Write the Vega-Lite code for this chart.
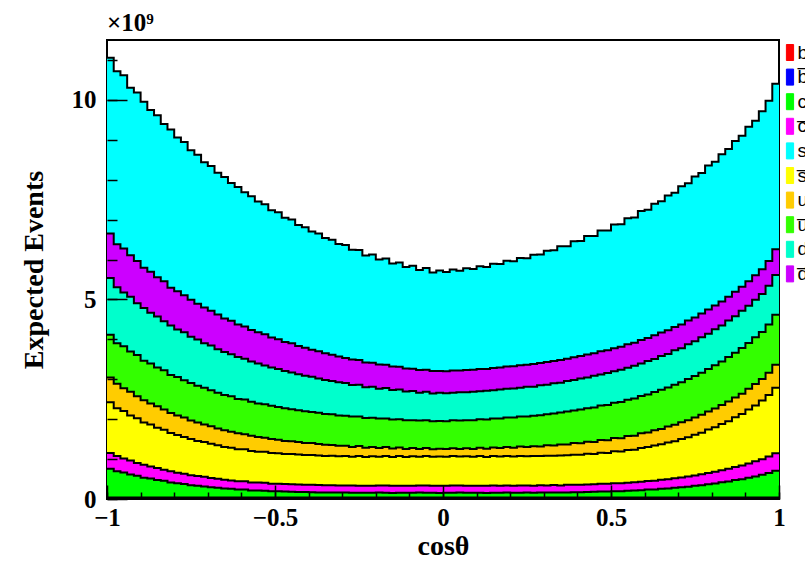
{
  "$schema": "https://vega.github.io/schema/vega-lite/v6.json",
  "width": 672,
  "height": 459,
  "autosize": {"type": "none"},
  "padding": {"left": 107, "top": 40, "right": 26, "bottom": 62},
  "background": "white",
  "config": {
    "view": {"stroke": "black", "strokeWidth": 2},
    "font": "Liberation Serif",
    "legend": {
      "orient": "none", "legendX": 673.5, "legendY": 3, "title": null,
      "symbolType": "M-0.45,-1H0.45V1H-0.45Z", "symbolSize": 256,
      "symbolStrokeColor": "black", "symbolStrokeWidth": 1, "symbolOpacity": 1,
      "labelFont": "Liberation Sans", "labelFontSize": 19, "labelColor": "black",
      "labelOffset": -2, "rowPadding": 3.6
    }
  },
  "title": {"text": "×10⁹", "anchor": "start", "frame": "group", "fontSize": 25, "font": "Liberation Serif", "fontWeight": "bold", "offset": 4, "color": "black"},
  "data": {"values": [
    {"x": -1.00, "b": 0.02, "bbar": 0.015, "c": 0.72, "cbar": 0.40, "sbar": 1.27, "u": 0.62, "ubar": 1.07, "d": 1.42, "dbar": 1.12, "s": 4.40},
    {"x": -0.98, "b": 0.02, "bbar": 0.015, "c": 0.66, "cbar": 0.38, "sbar": 1.20, "u": 0.61, "ubar": 1.02, "d": 1.40, "dbar": 1.08, "s": 4.33},
    {"x": -0.96, "b": 0.02, "bbar": 0.015, "c": 0.63, "cbar": 0.35, "sbar": 1.19, "u": 0.57, "ubar": 1.05, "d": 1.35, "dbar": 1.10, "s": 4.34},
    {"x": -0.94, "b": 0.02, "bbar": 0.015, "c": 0.58, "cbar": 0.35, "sbar": 1.13, "u": 0.59, "ubar": 1.01, "d": 1.37, "dbar": 1.04, "s": 4.20},
    {"x": -0.92, "b": 0.02, "bbar": 0.015, "c": 0.55, "cbar": 0.32, "sbar": 1.12, "u": 0.55, "ubar": 1.03, "d": 1.30, "dbar": 1.06, "s": 4.22},
    {"x": -0.90, "b": 0.02, "bbar": 0.015, "c": 0.50, "cbar": 0.32, "sbar": 1.06, "u": 0.56, "ubar": 0.99, "d": 1.32, "dbar": 1.01, "s": 4.16},
    {"x": -0.88, "b": 0.02, "bbar": 0.015, "c": 0.48, "cbar": 0.30, "sbar": 1.05, "u": 0.53, "ubar": 1.00, "d": 1.27, "dbar": 1.03, "s": 4.05},
    {"x": -0.86, "b": 0.02, "bbar": 0.015, "c": 0.44, "cbar": 0.30, "sbar": 1.01, "u": 0.54, "ubar": 0.97, "d": 1.28, "dbar": 0.98, "s": 4.06},
    {"x": -0.84, "b": 0.02, "bbar": 0.015, "c": 0.42, "cbar": 0.28, "sbar": 1.00, "u": 0.51, "ubar": 0.98, "d": 1.23, "dbar": 1.00, "s": 3.94},
    {"x": -0.82, "b": 0.02, "bbar": 0.015, "c": 0.38, "cbar": 0.28, "sbar": 0.96, "u": 0.50, "ubar": 0.95, "d": 1.24, "dbar": 0.95, "s": 3.96},
    {"x": -0.80, "b": 0.02, "bbar": 0.015, "c": 0.36, "cbar": 0.26, "sbar": 0.95, "u": 0.49, "ubar": 0.96, "d": 1.19, "dbar": 0.96, "s": 3.85},
    {"x": -0.78, "b": 0.02, "bbar": 0.015, "c": 0.34, "cbar": 0.26, "sbar": 0.92, "u": 0.49, "ubar": 0.93, "d": 1.20, "dbar": 0.93, "s": 3.84},
    {"x": -0.76, "b": 0.02, "bbar": 0.015, "c": 0.31, "cbar": 0.25, "sbar": 0.91, "u": 0.46, "ubar": 0.94, "d": 1.16, "dbar": 0.93, "s": 3.74},
    {"x": -0.74, "b": 0.02, "bbar": 0.015, "c": 0.30, "cbar": 0.24, "sbar": 0.88, "u": 0.46, "ubar": 0.92, "d": 1.16, "dbar": 0.90, "s": 3.73},
    {"x": -0.72, "b": 0.02, "bbar": 0.015, "c": 0.28, "cbar": 0.24, "sbar": 0.87, "u": 0.44, "ubar": 0.92, "d": 1.12, "dbar": 0.89, "s": 3.64},
    {"x": -0.70, "b": 0.02, "bbar": 0.015, "c": 0.26, "cbar": 0.23, "sbar": 0.86, "u": 0.44, "ubar": 0.90, "d": 1.12, "dbar": 0.87, "s": 3.63},
    {"x": -0.68, "b": 0.02, "bbar": 0.015, "c": 0.25, "cbar": 0.22, "sbar": 0.84, "u": 0.42, "ubar": 0.90, "d": 1.09, "dbar": 0.87, "s": 3.55},
    {"x": -0.66, "b": 0.02, "bbar": 0.015, "c": 0.23, "cbar": 0.22, "sbar": 0.82, "u": 0.42, "ubar": 0.88, "d": 1.08, "dbar": 0.84, "s": 3.54},
    {"x": -0.64, "b": 0.02, "bbar": 0.015, "c": 0.22, "cbar": 0.21, "sbar": 0.82, "u": 0.40, "ubar": 0.89, "d": 1.05, "dbar": 0.84, "s": 3.45},
    {"x": -0.62, "b": 0.02, "bbar": 0.015, "c": 0.20, "cbar": 0.21, "sbar": 0.80, "u": 0.40, "ubar": 0.86, "d": 1.05, "dbar": 0.82, "s": 3.44},
    {"x": -0.60, "b": 0.02, "bbar": 0.015, "c": 0.20, "cbar": 0.21, "sbar": 0.80, "u": 0.38, "ubar": 0.87, "d": 1.02, "dbar": 0.81, "s": 3.36},
    {"x": -0.58, "b": 0.02, "bbar": 0.015, "c": 0.18, "cbar": 0.20, "sbar": 0.79, "u": 0.38, "ubar": 0.85, "d": 1.01, "dbar": 0.79, "s": 3.35},
    {"x": -0.56, "b": 0.02, "bbar": 0.015, "c": 0.18, "cbar": 0.20, "sbar": 0.77, "u": 0.37, "ubar": 0.84, "d": 1.00, "dbar": 0.78, "s": 3.28},
    {"x": -0.54, "b": 0.02, "bbar": 0.015, "c": 0.17, "cbar": 0.20, "sbar": 0.78, "u": 0.35, "ubar": 0.84, "d": 0.97, "dbar": 0.78, "s": 3.26},
    {"x": -0.52, "b": 0.02, "bbar": 0.015, "c": 0.16, "cbar": 0.19, "sbar": 0.77, "u": 0.35, "ubar": 0.83, "d": 0.96, "dbar": 0.75, "s": 3.19},
    {"x": -0.50, "b": 0.02, "bbar": 0.015, "c": 0.16, "cbar": 0.19, "sbar": 0.76, "u": 0.34, "ubar": 0.82, "d": 0.95, "dbar": 0.75, "s": 3.18},
    {"x": -0.48, "b": 0.02, "bbar": 0.015, "c": 0.15, "cbar": 0.19, "sbar": 0.75, "u": 0.33, "ubar": 0.82, "d": 0.93, "dbar": 0.73, "s": 3.11},
    {"x": -0.46, "b": 0.02, "bbar": 0.015, "c": 0.145, "cbar": 0.19, "sbar": 0.76, "u": 0.32, "ubar": 0.80, "d": 0.92, "dbar": 0.73, "s": 3.10},
    {"x": -0.44, "b": 0.02, "bbar": 0.015, "c": 0.14, "cbar": 0.19, "sbar": 0.75, "u": 0.31, "ubar": 0.80, "d": 0.90, "dbar": 0.71, "s": 3.03},
    {"x": -0.42, "b": 0.02, "bbar": 0.015, "c": 0.14, "cbar": 0.185, "sbar": 0.74, "u": 0.30, "ubar": 0.80, "d": 0.89, "dbar": 0.70, "s": 3.02},
    {"x": -0.40, "b": 0.02, "bbar": 0.015, "c": 0.135, "cbar": 0.185, "sbar": 0.745, "u": 0.30, "ubar": 0.78, "d": 0.88, "dbar": 0.68, "s": 2.96},
    {"x": -0.38, "b": 0.02, "bbar": 0.015, "c": 0.13, "cbar": 0.185, "sbar": 0.74, "u": 0.285, "ubar": 0.785, "d": 0.86, "dbar": 0.68, "s": 2.95},
    {"x": -0.36, "b": 0.02, "bbar": 0.015, "c": 0.13, "cbar": 0.18, "sbar": 0.735, "u": 0.28, "ubar": 0.77, "d": 0.85, "dbar": 0.67, "s": 2.89},
    {"x": -0.34, "b": 0.02, "bbar": 0.015, "c": 0.125, "cbar": 0.185, "sbar": 0.74, "u": 0.27, "ubar": 0.77, "d": 0.83, "dbar": 0.66, "s": 2.88},
    {"x": -0.32, "b": 0.02, "bbar": 0.015, "c": 0.125, "cbar": 0.18, "sbar": 0.73, "u": 0.265, "ubar": 0.76, "d": 0.83, "dbar": 0.645, "s": 2.82},
    {"x": -0.30, "b": 0.02, "bbar": 0.015, "c": 0.125, "cbar": 0.18, "sbar": 0.735, "u": 0.26, "ubar": 0.75, "d": 0.82, "dbar": 0.63, "s": 2.83},
    {"x": -0.28, "b": 0.02, "bbar": 0.015, "c": 0.12, "cbar": 0.185, "sbar": 0.72, "u": 0.245, "ubar": 0.76, "d": 0.79, "dbar": 0.64, "s": 2.75},
    {"x": -0.26, "b": 0.02, "bbar": 0.015, "c": 0.12, "cbar": 0.18, "sbar": 0.74, "u": 0.25, "ubar": 0.74, "d": 0.80, "dbar": 0.615, "s": 2.76},
    {"x": -0.24, "b": 0.02, "bbar": 0.015, "c": 0.12, "cbar": 0.175, "sbar": 0.725, "u": 0.23, "ubar": 0.745, "d": 0.77, "dbar": 0.62, "s": 2.68},
    {"x": -0.22, "b": 0.02, "bbar": 0.015, "c": 0.12, "cbar": 0.18, "sbar": 0.735, "u": 0.235, "ubar": 0.73, "d": 0.78, "dbar": 0.60, "s": 2.71},
    {"x": -0.20, "b": 0.02, "bbar": 0.015, "c": 0.125, "cbar": 0.18, "sbar": 0.72, "u": 0.22, "ubar": 0.735, "d": 0.75, "dbar": 0.605, "s": 2.63},
    {"x": -0.18, "b": 0.02, "bbar": 0.015, "c": 0.12, "cbar": 0.185, "sbar": 0.735, "u": 0.225, "ubar": 0.72, "d": 0.76, "dbar": 0.585, "s": 2.66},
    {"x": -0.16, "b": 0.02, "bbar": 0.015, "c": 0.115, "cbar": 0.18, "sbar": 0.725, "u": 0.21, "ubar": 0.725, "d": 0.74, "dbar": 0.59, "s": 2.58},
    {"x": -0.14, "b": 0.02, "bbar": 0.015, "c": 0.12, "cbar": 0.18, "sbar": 0.74, "u": 0.215, "ubar": 0.71, "d": 0.745, "dbar": 0.57, "s": 2.61},
    {"x": -0.12, "b": 0.02, "bbar": 0.015, "c": 0.12, "cbar": 0.175, "sbar": 0.725, "u": 0.20, "ubar": 0.72, "d": 0.72, "dbar": 0.575, "s": 2.54},
    {"x": -0.10, "b": 0.02, "bbar": 0.015, "c": 0.12, "cbar": 0.18, "sbar": 0.735, "u": 0.205, "ubar": 0.70, "d": 0.73, "dbar": 0.56, "s": 2.58},
    {"x": -0.08, "b": 0.02, "bbar": 0.015, "c": 0.125, "cbar": 0.18, "sbar": 0.72, "u": 0.195, "ubar": 0.71, "d": 0.70, "dbar": 0.565, "s": 2.51},
    {"x": -0.06, "b": 0.02, "bbar": 0.015, "c": 0.12, "cbar": 0.185, "sbar": 0.735, "u": 0.20, "ubar": 0.70, "d": 0.715, "dbar": 0.55, "s": 2.55},
    {"x": -0.04, "b": 0.02, "bbar": 0.015, "c": 0.12, "cbar": 0.18, "sbar": 0.725, "u": 0.185, "ubar": 0.705, "d": 0.695, "dbar": 0.56, "s": 2.47},
    {"x": -0.02, "b": 0.02, "bbar": 0.015, "c": 0.115, "cbar": 0.18, "sbar": 0.735, "u": 0.195, "ubar": 0.695, "d": 0.705, "dbar": 0.545, "s": 2.52},
    {"x": 0.00, "b": 0.02, "bbar": 0.015, "c": 0.12, "cbar": 0.18, "sbar": 0.725, "u": 0.19, "ubar": 0.70, "d": 0.70, "dbar": 0.55, "s": 2.49},
    {"x": 0.02, "b": 0.02, "bbar": 0.015, "c": 0.12, "cbar": 0.185, "sbar": 0.735, "u": 0.195, "ubar": 0.705, "d": 0.69, "dbar": 0.555, "s": 2.53},
    {"x": 0.04, "b": 0.02, "bbar": 0.015, "c": 0.125, "cbar": 0.18, "sbar": 0.725, "u": 0.19, "ubar": 0.71, "d": 0.71, "dbar": 0.545, "s": 2.50},
    {"x": 0.06, "b": 0.02, "bbar": 0.015, "c": 0.12, "cbar": 0.18, "sbar": 0.735, "u": 0.20, "ubar": 0.705, "d": 0.70, "dbar": 0.555, "s": 2.55},
    {"x": 0.08, "b": 0.02, "bbar": 0.015, "c": 0.12, "cbar": 0.175, "sbar": 0.73, "u": 0.195, "ubar": 0.72, "d": 0.715, "dbar": 0.55, "s": 2.52},
    {"x": 0.10, "b": 0.02, "bbar": 0.015, "c": 0.12, "cbar": 0.18, "sbar": 0.74, "u": 0.21, "ubar": 0.715, "d": 0.70, "dbar": 0.56, "s": 2.57},
    {"x": 0.12, "b": 0.02, "bbar": 0.015, "c": 0.115, "cbar": 0.18, "sbar": 0.725, "u": 0.205, "ubar": 0.73, "d": 0.72, "dbar": 0.55, "s": 2.55},
    {"x": 0.14, "b": 0.02, "bbar": 0.015, "c": 0.12, "cbar": 0.185, "sbar": 0.735, "u": 0.215, "ubar": 0.725, "d": 0.71, "dbar": 0.56, "s": 2.61},
    {"x": 0.16, "b": 0.02, "bbar": 0.015, "c": 0.12, "cbar": 0.18, "sbar": 0.73, "u": 0.21, "ubar": 0.745, "d": 0.725, "dbar": 0.55, "s": 2.59},
    {"x": 0.18, "b": 0.02, "bbar": 0.015, "c": 0.125, "cbar": 0.18, "sbar": 0.74, "u": 0.225, "ubar": 0.74, "d": 0.715, "dbar": 0.56, "s": 2.65},
    {"x": 0.20, "b": 0.02, "bbar": 0.015, "c": 0.12, "cbar": 0.18, "sbar": 0.73, "u": 0.22, "ubar": 0.755, "d": 0.73, "dbar": 0.555, "s": 2.63},
    {"x": 0.22, "b": 0.02, "bbar": 0.015, "c": 0.12, "cbar": 0.185, "sbar": 0.74, "u": 0.235, "ubar": 0.75, "d": 0.725, "dbar": 0.56, "s": 2.69},
    {"x": 0.24, "b": 0.02, "bbar": 0.015, "c": 0.125, "cbar": 0.18, "sbar": 0.73, "u": 0.23, "ubar": 0.77, "d": 0.74, "dbar": 0.555, "s": 2.67},
    {"x": 0.26, "b": 0.02, "bbar": 0.015, "c": 0.12, "cbar": 0.18, "sbar": 0.74, "u": 0.245, "ubar": 0.765, "d": 0.73, "dbar": 0.565, "s": 2.74},
    {"x": 0.28, "b": 0.02, "bbar": 0.015, "c": 0.125, "cbar": 0.185, "sbar": 0.73, "u": 0.24, "ubar": 0.785, "d": 0.75, "dbar": 0.555, "s": 2.72},
    {"x": 0.30, "b": 0.02, "bbar": 0.015, "c": 0.125, "cbar": 0.18, "sbar": 0.745, "u": 0.26, "ubar": 0.78, "d": 0.74, "dbar": 0.565, "s": 2.79},
    {"x": 0.32, "b": 0.02, "bbar": 0.015, "c": 0.13, "cbar": 0.185, "sbar": 0.735, "u": 0.255, "ubar": 0.805, "d": 0.755, "dbar": 0.56, "s": 2.77},
    {"x": 0.34, "b": 0.02, "bbar": 0.015, "c": 0.125, "cbar": 0.18, "sbar": 0.75, "u": 0.275, "ubar": 0.80, "d": 0.75, "dbar": 0.57, "s": 2.85},
    {"x": 0.36, "b": 0.02, "bbar": 0.015, "c": 0.13, "cbar": 0.19, "sbar": 0.74, "u": 0.27, "ubar": 0.825, "d": 0.765, "dbar": 0.56, "s": 2.82},
    {"x": 0.38, "b": 0.02, "bbar": 0.015, "c": 0.135, "cbar": 0.185, "sbar": 0.755, "u": 0.29, "ubar": 0.82, "d": 0.76, "dbar": 0.57, "s": 2.91},
    {"x": 0.40, "b": 0.02, "bbar": 0.015, "c": 0.135, "cbar": 0.19, "sbar": 0.75, "u": 0.285, "ubar": 0.845, "d": 0.78, "dbar": 0.565, "s": 2.88},
    {"x": 0.42, "b": 0.02, "bbar": 0.015, "c": 0.14, "cbar": 0.19, "sbar": 0.77, "u": 0.30, "ubar": 0.84, "d": 0.77, "dbar": 0.575, "s": 2.97},
    {"x": 0.44, "b": 0.02, "bbar": 0.015, "c": 0.145, "cbar": 0.19, "sbar": 0.76, "u": 0.30, "ubar": 0.865, "d": 0.79, "dbar": 0.565, "s": 2.94},
    {"x": 0.46, "b": 0.02, "bbar": 0.015, "c": 0.15, "cbar": 0.195, "sbar": 0.78, "u": 0.32, "ubar": 0.86, "d": 0.78, "dbar": 0.58, "s": 3.03},
    {"x": 0.48, "b": 0.02, "bbar": 0.015, "c": 0.15, "cbar": 0.195, "sbar": 0.775, "u": 0.315, "ubar": 0.885, "d": 0.80, "dbar": 0.57, "s": 3.00},
    {"x": 0.50, "b": 0.02, "bbar": 0.015, "c": 0.16, "cbar": 0.20, "sbar": 0.80, "u": 0.335, "ubar": 0.88, "d": 0.79, "dbar": 0.58, "s": 3.10},
    {"x": 0.52, "b": 0.02, "bbar": 0.015, "c": 0.16, "cbar": 0.20, "sbar": 0.795, "u": 0.33, "ubar": 0.91, "d": 0.81, "dbar": 0.575, "s": 3.07},
    {"x": 0.54, "b": 0.02, "bbar": 0.015, "c": 0.17, "cbar": 0.205, "sbar": 0.82, "u": 0.35, "ubar": 0.905, "d": 0.805, "dbar": 0.585, "s": 3.16},
    {"x": 0.56, "b": 0.02, "bbar": 0.015, "c": 0.18, "cbar": 0.205, "sbar": 0.815, "u": 0.35, "ubar": 0.93, "d": 0.825, "dbar": 0.575, "s": 3.14},
    {"x": 0.58, "b": 0.02, "bbar": 0.015, "c": 0.185, "cbar": 0.215, "sbar": 0.845, "u": 0.37, "ubar": 0.93, "d": 0.815, "dbar": 0.59, "s": 3.23},
    {"x": 0.60, "b": 0.02, "bbar": 0.015, "c": 0.20, "cbar": 0.215, "sbar": 0.85, "u": 0.365, "ubar": 0.955, "d": 0.835, "dbar": 0.58, "s": 3.21},
    {"x": 0.62, "b": 0.02, "bbar": 0.015, "c": 0.205, "cbar": 0.22, "sbar": 0.88, "u": 0.385, "ubar": 0.955, "d": 0.83, "dbar": 0.59, "s": 3.30},
    {"x": 0.64, "b": 0.02, "bbar": 0.015, "c": 0.22, "cbar": 0.23, "sbar": 0.885, "u": 0.385, "ubar": 0.98, "d": 0.85, "dbar": 0.585, "s": 3.29},
    {"x": 0.66, "b": 0.02, "bbar": 0.015, "c": 0.23, "cbar": 0.23, "sbar": 0.92, "u": 0.40, "ubar": 0.98, "d": 0.84, "dbar": 0.59, "s": 3.38},
    {"x": 0.68, "b": 0.02, "bbar": 0.015, "c": 0.245, "cbar": 0.24, "sbar": 0.93, "u": 0.41, "ubar": 1.005, "d": 0.86, "dbar": 0.585, "s": 3.36},
    {"x": 0.70, "b": 0.02, "bbar": 0.015, "c": 0.26, "cbar": 0.245, "sbar": 0.965, "u": 0.415, "ubar": 1.005, "d": 0.855, "dbar": 0.595, "s": 3.46},
    {"x": 0.72, "b": 0.02, "bbar": 0.015, "c": 0.275, "cbar": 0.255, "sbar": 0.98, "u": 0.43, "ubar": 1.03, "d": 0.875, "dbar": 0.59, "s": 3.44},
    {"x": 0.74, "b": 0.02, "bbar": 0.015, "c": 0.295, "cbar": 0.26, "sbar": 1.02, "u": 0.435, "ubar": 1.035, "d": 0.87, "dbar": 0.60, "s": 3.53},
    {"x": 0.76, "b": 0.02, "bbar": 0.015, "c": 0.31, "cbar": 0.275, "sbar": 1.04, "u": 0.45, "ubar": 1.055, "d": 0.89, "dbar": 0.595, "s": 3.52},
    {"x": 0.78, "b": 0.02, "bbar": 0.015, "c": 0.335, "cbar": 0.28, "sbar": 1.09, "u": 0.455, "ubar": 1.06, "d": 0.885, "dbar": 0.605, "s": 3.61},
    {"x": 0.80, "b": 0.02, "bbar": 0.015, "c": 0.355, "cbar": 0.295, "sbar": 1.11, "u": 0.47, "ubar": 1.085, "d": 0.90, "dbar": 0.60, "s": 3.60},
    {"x": 0.82, "b": 0.02, "bbar": 0.015, "c": 0.385, "cbar": 0.30, "sbar": 1.16, "u": 0.475, "ubar": 1.09, "d": 0.90, "dbar": 0.605, "s": 3.69},
    {"x": 0.84, "b": 0.02, "bbar": 0.015, "c": 0.405, "cbar": 0.32, "sbar": 1.19, "u": 0.49, "ubar": 1.115, "d": 0.915, "dbar": 0.60, "s": 3.70},
    {"x": 0.86, "b": 0.02, "bbar": 0.015, "c": 0.44, "cbar": 0.325, "sbar": 1.25, "u": 0.495, "ubar": 1.12, "d": 0.915, "dbar": 0.61, "s": 3.78},
    {"x": 0.88, "b": 0.02, "bbar": 0.015, "c": 0.46, "cbar": 0.345, "sbar": 1.29, "u": 0.51, "ubar": 1.145, "d": 0.93, "dbar": 0.605, "s": 3.78},
    {"x": 0.90, "b": 0.02, "bbar": 0.015, "c": 0.50, "cbar": 0.355, "sbar": 1.35, "u": 0.52, "ubar": 1.15, "d": 0.93, "dbar": 0.615, "s": 3.87},
    {"x": 0.92, "b": 0.02, "bbar": 0.015, "c": 0.53, "cbar": 0.38, "sbar": 1.40, "u": 0.535, "ubar": 1.17, "d": 0.945, "dbar": 0.61, "s": 3.87},
    {"x": 0.94, "b": 0.02, "bbar": 0.015, "c": 0.57, "cbar": 0.39, "sbar": 1.47, "u": 0.54, "ubar": 1.18, "d": 0.95, "dbar": 0.62, "s": 3.96},
    {"x": 0.96, "b": 0.02, "bbar": 0.015, "c": 0.615, "cbar": 0.415, "sbar": 1.54, "u": 0.56, "ubar": 1.21, "d": 0.965, "dbar": 0.62, "s": 4.02},
    {"x": 0.98, "b": 0.02, "bbar": 0.015, "c": 0.67, "cbar": 0.44, "sbar": 1.64, "u": 0.58, "ubar": 1.25, "d": 1.00, "dbar": 0.64, "s": 4.15},
    {"x": 1.00, "b": 0.02, "bbar": 0.015, "c": 0.67, "cbar": 0.44, "sbar": 1.64, "u": 0.58, "ubar": 1.25, "d": 1.00, "dbar": 0.64, "s": 4.15}
  ]},
  "transform": [
    {"fold": ["b", "bbar", "c", "cbar", "sbar", "u", "ubar", "d", "dbar", "s"], "as": ["q", "v"]},
    {"lookup": "q", "from": {"data": {"values": [
      {"q": "b", "k": 0}, {"q": "bbar", "k": 1}, {"q": "c", "k": 2}, {"q": "cbar", "k": 3}, {"q": "sbar", "k": 4},
      {"q": "u", "k": 5}, {"q": "ubar", "k": 6}, {"q": "d", "k": 7}, {"q": "dbar", "k": 8}, {"q": "s", "k": 9}
    ]}, "key": "q", "fields": ["k"]}}
  ],
  "layer": [
    {
      "mark": {"type": "area", "interpolate": "step-after", "opacity": 1, "line": {"stroke": "black", "strokeWidth": 2}},
      "encoding": {
        "x": {"field": "x", "type": "quantitative", "title": "cosθ",
          "scale": {"domain": [-1, 1], "nice": false, "zero": false},
          "axis": {"orient": "bottom", "values": [-1, -0.5, 0, 0.5, 1], "format": "~g", "tickSize": -14, "tickWidth": 1.5, "tickColor": "black",
            "domain": false, "grid": false, "labelFont": "Liberation Serif", "labelFontWeight": "bold", "labelFontSize": 25, "labelColor": "black",
            "labelPadding": 20, "labelFlush": false, "titleFont": "Liberation Serif", "titleFontWeight": "bold", "titleFontSize": 28, "titleColor": "black",
            "titleX": 336, "titleY": 55, "titleBaseline": "alphabetic", "titleAlign": "center", "zindex": 1}},
        "y": {"field": "v", "type": "quantitative", "stack": "zero", "title": "Expected Events",
          "scale": {"domain": [0, 11.5], "nice": false},
          "axis": {"orient": "left", "values": [0, 5, 10], "tickSize": -20, "tickWidth": 1.5, "tickColor": "black",
            "domain": false, "grid": false, "labelFont": "Liberation Serif", "labelFontWeight": "bold", "labelFontSize": 25, "labelColor": "black",
            "labelPadding": 31, "labelFlush": false, "titleFont": "Liberation Serif", "titleFontWeight": "bold", "titleFontSize": 28, "titleColor": "black",
            "titleX": -65, "titleY": 229.5, "titleBaseline": "alphabetic", "titleAlign": "center", "titleAngle": 270, "zindex": 1}},
        "color": {"field": "q", "type": "nominal",
          "scale": {"domain": ["b", "bbar", "c", "cbar", "s", "sbar", "u", "ubar", "d", "dbar"],
                    "range": ["#ff0000", "#0000ff", "#00ff00", "#ff00ff", "#00ffff", "#ffff00", "#ffcc00", "#33ff00", "#00ffcc", "#cc00ff"]},
          "legend": {"labelExpr": "replace(datum.label, 'bar', '\u0305')",
            "encode": {"symbols": {"update": {"fill": {"scale": "color", "field": "value"}, "stroke": {"value": "black"}, "strokeWidth": {"value": 1}, "opacity": {"value": 1}}}}}},
        "order": {"field": "k", "type": "quantitative"}
      }
    },
    {
      "mark": {"type": "point", "opacity": 0},
      "encoding": {
        "x": {"field": "x", "type": "quantitative", "title": null,
          "axis": {"orient": "bottom", "values": [-1, -0.9, -0.8, -0.7, -0.6, -0.5, -0.4, -0.3, -0.2, -0.1, 0, 0.1, 0.2, 0.3, 0.4, 0.5, 0.6, 0.7, 0.8, 0.9, 1],
            "labels": false, "tickSize": -7, "tickWidth": 1.5, "tickColor": "black", "domain": false, "grid": false, "zindex": 1}},
        "y": {"field": "v", "type": "quantitative", "title": null,
          "axis": {"orient": "left", "values": [0, 1, 2, 3, 4, 5, 6, 7, 8, 9, 10, 11],
            "labels": false, "tickSize": -10, "tickWidth": 1.5, "tickColor": "black", "domain": false, "grid": false, "zindex": 1}}
      }
    }
  ],
  "resolve": {"axis": {"x": "independent", "y": "independent"}}
}
